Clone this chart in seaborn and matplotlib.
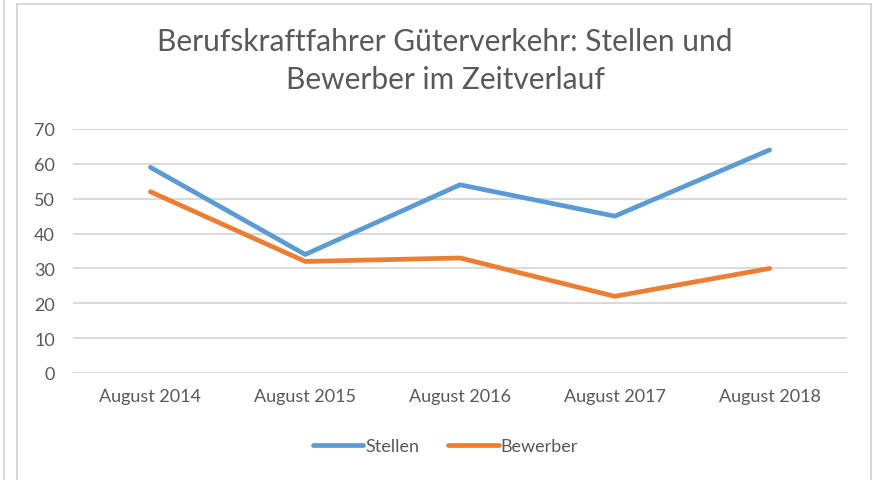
import matplotlib
matplotlib.use("Agg")
import matplotlib.pyplot as plt
import matplotlib.lines as mlines
import seaborn as sns
import pandas as pd

# data
months = ["August 2014", "August 2015", "August 2016", "August 2017", "August 2018"]
stellen = [59, 34, 54, 45, 64]
bewerber = [52, 32, 33, 22, 30]
series_names = ["Stellen", "Bewerber"]
colors = ["#5B9BD5", "#ED7D31"]

df = pd.DataFrame({"Monat": months * 2,
                   "Anzahl": stellen + bewerber,
                   "Reihe": [series_names[0]] * len(months) + [series_names[1]] * len(months)})

sns.set_style("white")
plt.rcParams["font.family"] = ["Lato", "DejaVu Sans"]
text_col = "#595959"

fig = plt.figure(figsize=(8.73, 4.81), dpi=100)
ax = fig.add_axes([73 / 873, 1 - 374 / 481, 774 / 873, 244 / 481])

sns.lineplot(data=df, x="Monat", y="Anzahl", hue="Reihe", palette=colors,
             linewidth=3.4, sort=False, ax=ax, legend=False)

ax.set_xlim(-0.5, len(months) - 0.5)
ax.set_ylim(0, 70)
ax.set_yticks(range(0, 71, 10))
ax.grid(axis="y", color="#D9D9D9", linewidth=1.4)
ax.set_axisbelow(True)
for s in ax.spines.values():
    s.set_visible(False)
ax.set_xlabel("")
ax.set_ylabel("")
ax.tick_params(axis="both", length=0, labelsize=13, colors=text_col)
ax.tick_params(axis="x", pad=11)
ax.tick_params(axis="y", pad=13)

fig.text(0.51, 0.913, "Berufskraftfahrer Güterverkehr: Stellen und",
         ha="center", va="center", fontsize=21.5, color=text_col)
fig.text(0.51, 0.833, "Bewerber im Zeitverlauf",
         ha="center", va="center", fontsize=21.5, color=text_col)

handles = [mlines.Line2D([], [], color=c, linewidth=3.4) for c in colors]
fig.legend(handles, series_names, loc="center", bbox_to_anchor=(0.51, 1 - 447 / 481),
           ncol=2, frameon=False, fontsize=13, handlelength=2.8, handletextpad=0.1,
           columnspacing=1.6, labelcolor=text_col)

# frame of the screenshot
frame_col = "#D9D9D9"
fig.add_artist(mlines.Line2D([4 / 873, 4 / 873], [0, 1], color=frame_col, linewidth=1.5))
fig.add_artist(mlines.Line2D([17 / 873, 17 / 873], [0, 1 - 5 / 481], color=frame_col, linewidth=1.5))
fig.add_artist(mlines.Line2D([17 / 873, 871 / 873], [1 - 5 / 481, 1 - 5 / 481], color=frame_col, linewidth=1.5))
fig.add_artist(mlines.Line2D([871 / 873, 871 / 873], [0, 1 - 5 / 481], color=frame_col, linewidth=1.5))

fig.savefig("out.png", dpi=100)
